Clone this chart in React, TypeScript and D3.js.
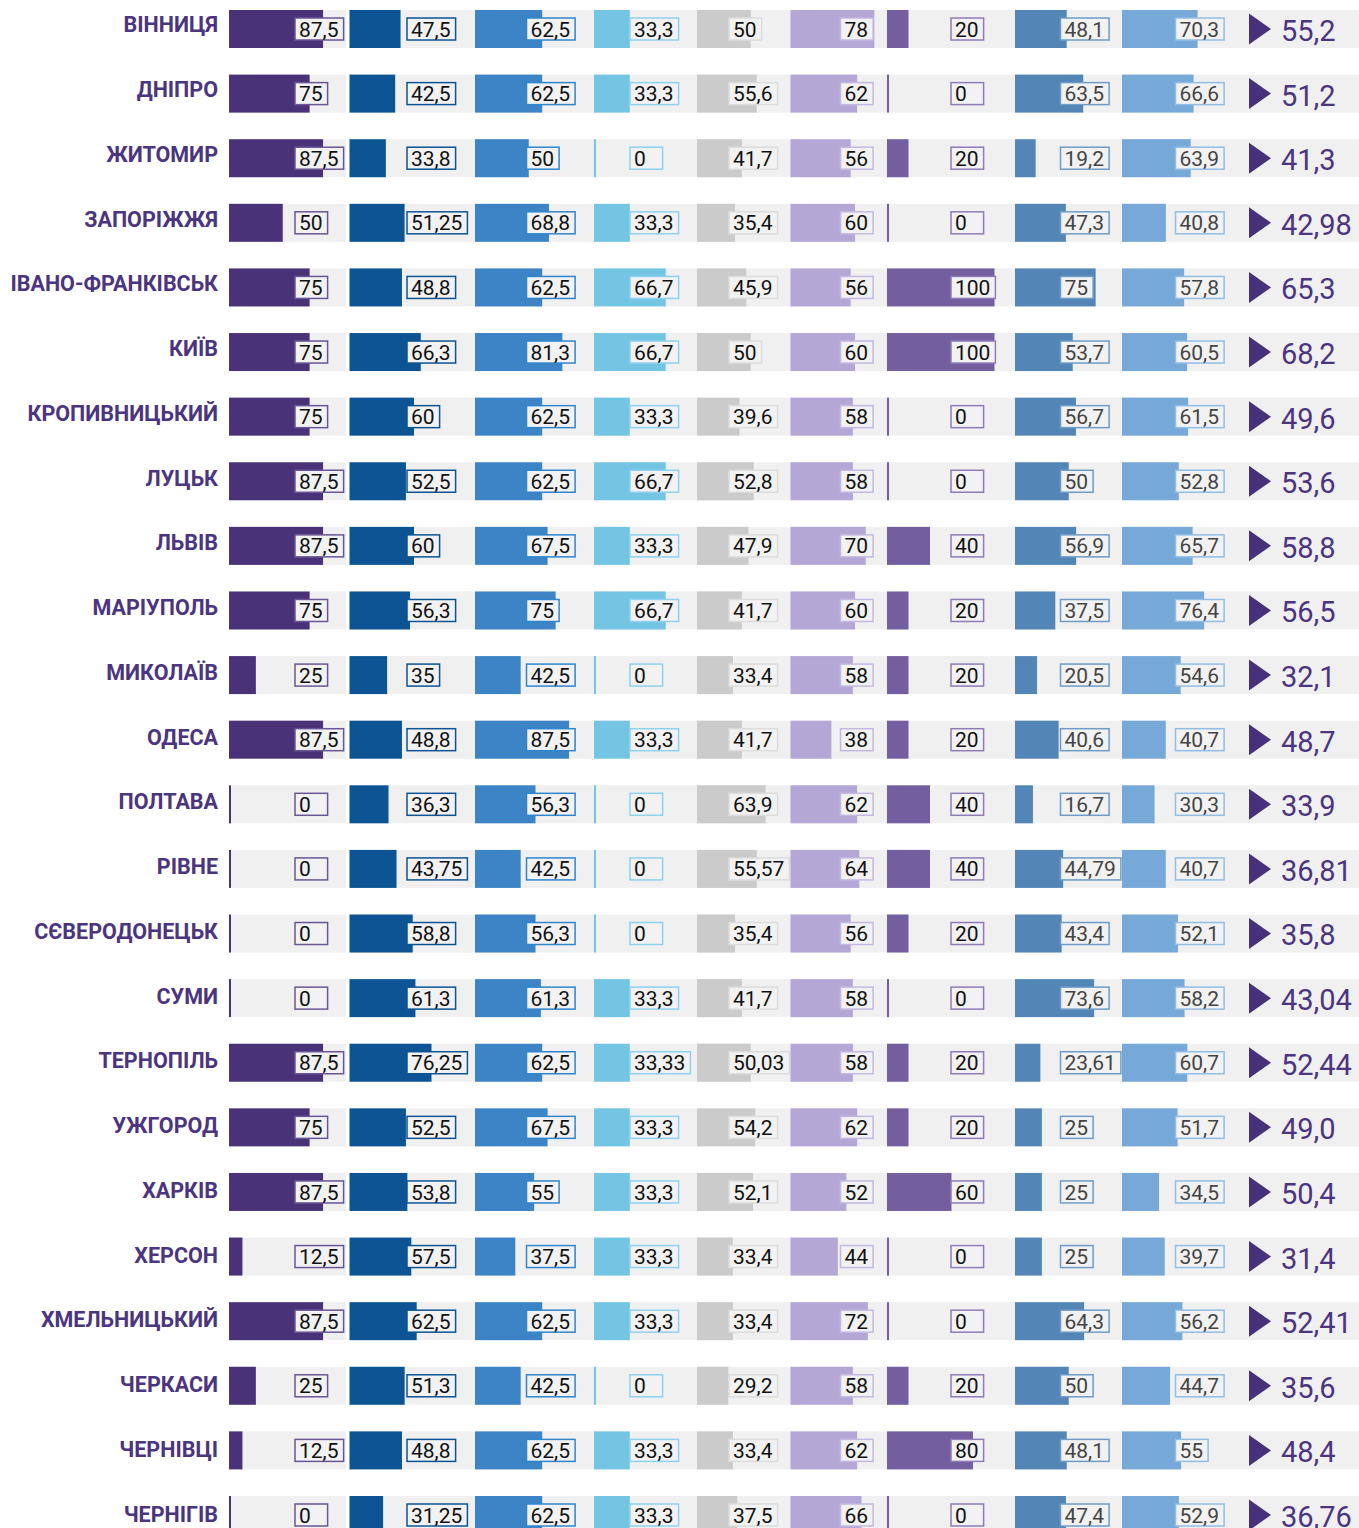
import React from 'react';
import * as d3 from 'd3';

const cities = [
  'ВІННИЦЯ', 'ДНІПРО', 'ЖИТОМИР', 'ЗАПОРІЖЖЯ', 'ІВАНО-ФРАНКІВСЬК', 'КИЇВ',
  'КРОПИВНИЦЬКИЙ', 'ЛУЦЬК', 'ЛЬВІВ', 'МАРІУПОЛЬ', 'МИКОЛАЇВ', 'ОДЕСА',
  'ПОЛТАВА', 'РІВНЕ', 'СЄВЕРОДОНЕЦЬК', 'СУМИ', 'ТЕРНОПІЛЬ', 'УЖГОРОД',
  'ХАРКІВ', 'ХЕРСОН', 'ХМЕЛЬНИЦЬКИЙ', 'ЧЕРКАСИ', 'ЧЕРНІВЦІ', 'ЧЕРНІГІВ',
];

const ind1 = [87.5, 75, 87.5, 50, 75, 75, 75, 87.5, 87.5, 75, 25, 87.5, 0, 0, 0, 0, 87.5, 75, 87.5, 12.5, 87.5, 25, 12.5, 0];
const ind2 = [47.5, 42.5, 33.8, 51.25, 48.8, 66.3, 60, 52.5, 60, 56.3, 35, 48.8, 36.3, 43.75, 58.8, 61.3, 76.25, 52.5, 53.8, 57.5, 62.5, 51.3, 48.8, 31.25];
const ind3 = [62.5, 62.5, 50, 68.8, 62.5, 81.3, 62.5, 62.5, 67.5, 75, 42.5, 87.5, 56.3, 42.5, 56.3, 61.3, 62.5, 67.5, 55, 37.5, 62.5, 42.5, 62.5, 62.5];
const ind4 = [33.3, 33.3, 0, 33.3, 66.7, 66.7, 33.3, 66.7, 33.3, 66.7, 0, 33.3, 0, 0, 0, 33.3, 33.33, 33.3, 33.3, 33.3, 33.3, 0, 33.3, 33.3];
const ind5 = [50, 55.6, 41.7, 35.4, 45.9, 50, 39.6, 52.8, 47.9, 41.7, 33.4, 41.7, 63.9, 55.57, 35.4, 41.7, 50.03, 54.2, 52.1, 33.4, 33.4, 29.2, 33.4, 37.5];
const ind6 = [78, 62, 56, 60, 56, 60, 58, 58, 70, 60, 58, 38, 62, 64, 56, 58, 58, 62, 52, 44, 72, 58, 62, 66];
const ind7 = [20, 0, 20, 0, 100, 100, 0, 0, 40, 20, 20, 20, 40, 40, 20, 0, 20, 20, 60, 0, 0, 20, 80, 0];
const ind8 = [48.1, 63.5, 19.2, 47.3, 75, 53.7, 56.7, 50, 56.9, 37.5, 20.5, 40.6, 16.7, 44.79, 43.4, 73.6, 23.61, 25, 25, 25, 64.3, 50, 48.1, 47.4];
const ind9 = [70.3, 66.6, 63.9, 40.8, 57.8, 60.5, 61.5, 52.8, 65.7, 76.4, 54.6, 40.7, 30.3, 40.7, 52.1, 58.2, 60.7, 51.7, 34.5, 39.7, 56.2, 44.7, 55, 52.9];
const totals = [
  '55,2', '51,2', '41,3', '42,98', '65,3', '68,2', '49,6', '53,6', '58,8', '56,5', '32,1', '48,7',
  '33,9', '36,81', '35,8', '43,04', '52,44', '49,0', '50,4', '31,4', '52,41', '35,6', '48,4', '36,76',
];

const indicators = [ind1, ind2, ind3, ind4, ind5, ind6, ind7, ind8, ind9];

// column layout
const colStart = [229, 349.5, 475, 594, 697, 790.5, 887, 1015, 1122];
const labelX = [295, 407, 526.5, 630, 729, 840.5, 951, 1060.5, 1175.5];
const colors = ['#4a3278', '#0d5494', '#3d84c6', '#74c4e4', '#cbcbcb', '#b4a7d6', '#735e9f', '#5386b6', '#76a9d8'];
const borders = ['#6a5694', '#0d5494', '#2f86cc', '#8fd1ee', '#dcdcdc', '#c4b8e2', '#8f7bb8', '#6f9cc6', '#92bde4'];
const textColors = ['#111', '#111', '#111', '#111', '#111', '#111', '#111', '#444', '#444'];

const W = 1359;
const H = 1528;
const barH = 38;
const boxH = 22;
const fontSize = 21;

const fmt = (v: number) => String(v).replace('.', ',');
const textW = (s: string) =>
  s.split('').reduce((a, c) => a + (c === ',' ? 0.2 : 0.562) * fontSize, 0);

export default function App() {
  const x = d3.scaleLinear().domain([0, 100]).range([0, 107.5]);
  const rowY = d3.scaleLinear().domain([0, cities.length - 1]).range([10, 1496]);
  const nameY = d3.scaleLinear().domain([0, cities.length - 1]).range([24.5, 1514]);

  return (
    <>
      <style>{'body{margin:0}'}</style>
      <svg width={W} height={H} style={{ display: 'block', fontFamily: 'Roboto, sans-serif' }}>
        {cities.map((city, i) => {
          const y0 = rowY(i);
          const cy = y0 + barH / 2;
          return (
            <g key={city}>
              <text
                x={218}
                y={nameY(i)}
                dy="0.36em"
                textAnchor="end"
                fill="#4b3480"
                fontWeight={700}
                fontSize={21.5}
              >
                {city}
              </text>
              <rect x={229} y={y0} width={117} height={barH} fill="#f0f0f0" />
              <rect x={349.5} y={y0} width={W - 349.5} height={barH} fill="#f0f0f0" />
              {indicators.map((vals, j) => {
                const v = vals[i];
                const label = fmt(v);
                const bw = Math.max(textW(label), textW('00')) + 9;
                return (
                  <g key={j}>
                    <rect x={colStart[j]} y={y0} width={Math.max(2, x(v))} height={barH} fill={colors[j]} />
                    <rect
                      x={labelX[j]}
                      y={cy - boxH / 2}
                      width={bw}
                      height={boxH}
                      fill="#f2f2f2"
                      stroke={borders[j]}
                      strokeWidth={1.5}
                    />
                    <text
                      x={labelX[j] + 4}
                      y={cy}
                      dy="0.36em"
                      fontSize={fontSize}
                      fill={textColors[j]}
                    >
                      {label}
                    </text>
                  </g>
                );
              })}
              <path
                d={`M1249,${cy - 15.5}L1271,${cy}L1249,${cy + 15.5}Z`}
                fill="#47317a"
              />
              <text x={1281} y={cy + 1.5} dy="0.36em" fontSize={29} fill="#4b3480">
                {totals[i]}
              </text>
            </g>
          );
        })}
      </svg>
    </>
  );
}
